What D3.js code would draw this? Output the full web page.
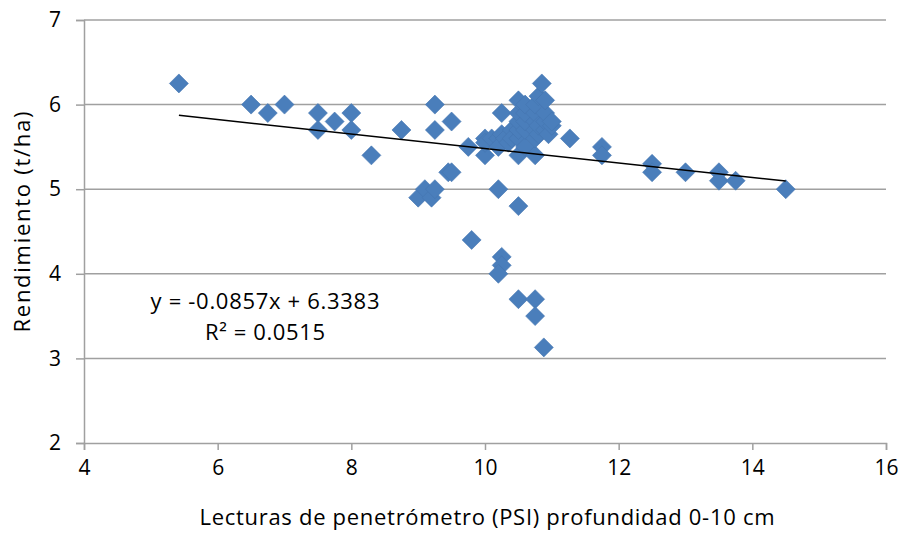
<!DOCTYPE html>
<html>
<head>
<meta charset="utf-8">
<script src="https://cdn.jsdelivr.net/npm/d3@7"></script>
<style>
  body { margin: 0; background: #fff; }
  svg text { font-family: "Open Sans", sans-serif; fill: #000; }
</style>
</head>
<body>
<svg id="chart" width="908" height="536"></svg>
<script>
// penetrometer readings (PSI) and yield (t/ha)
const psi = [
  5.42, 6.5, 6.75, 7.0, 7.5, 7.5, 7.75, 8.0, 8.0, 8.3, 8.75,
  9.25, 9.25, 9.5, 9.45, 9.5, 9.0, 9.1, 9.2, 9.25,
  10.2, 10.5, 9.8, 10.25, 10.25, 10.2, 10.5, 10.75, 10.75, 10.88,
  11.27, 11.75, 11.75, 12.5, 12.5, 13.0, 13.5, 13.5, 13.75, 14.5,
  9.75, 10.0, 10.0, 10.0, 10.1, 10.2, 10.2, 10.25, 10.25, 10.3, 10.35,
  10.4, 10.4, 10.5, 10.5, 10.5, 10.5, 10.5, 10.5, 10.6, 10.6, 10.6,
  10.6, 10.6, 10.75, 10.75, 10.75, 10.75, 10.75, 10.75, 10.8, 10.8,
  10.8, 10.85, 10.9, 10.9, 10.9, 10.9, 10.95, 11.0, 11.0
]
const rendimiento = [
  6.25, 6.0, 5.9, 6.0, 5.9, 5.7, 5.8, 5.9, 5.7, 5.4, 5.7,
  6.0, 5.7, 5.8, 5.2, 5.2, 4.9, 5.0, 4.9, 5.0,
  5.0, 4.8, 4.4, 4.2, 4.1, 4.0, 3.7, 3.7, 3.5, 3.13,
  5.6, 5.5, 5.4, 5.3, 5.2, 5.2, 5.2, 5.1, 5.1, 5.0,
  5.5, 5.6, 5.4, 5.55, 5.6, 5.6, 5.5, 5.65, 5.9, 5.6, 5.55,
  5.7, 5.6, 5.4, 5.6, 5.7, 5.8, 5.9, 6.05, 5.5, 5.7, 5.8,
  5.9, 6.0, 5.4, 5.6, 5.7, 5.8, 5.9, 6.0, 5.65, 5.75,
  6.1, 6.25, 5.7, 5.8, 5.9, 6.05, 5.65, 5.75, 5.8
]

// Excel linear trendline as printed on the chart
const slope = -0.0857
const intercept = 6.3383
const eqLabel = 'y = -0.0857x + 6.3383'
const r2Label = 'R² = 0.0515'

const xTicks = [4, 6, 8, 10, 12, 14, 16]
const yTicks = [2, 3, 4, 5, 6, 7]

const svg = d3.select('#chart')

const x = d3.scaleLinear().domain([4, 16]).range([84, 886])
const y = d3.scaleLinear().domain([2, 7]).range([443, 20])

const axisColor = '#a0a0a0'
const font = '"Open Sans", sans-serif'

// horizontal gridlines
svg.append('g')
    .selectAll('line')
    .data(yTicks.filter(t => t > 2))
    .enter().append('line')
    .attr('x1', x(4)).attr('x2', x(16))
    .attr('y1', d => y(d)).attr('y2', d => y(d))
    .style('stroke', axisColor)
    .style('stroke-width', '1.5px')

// y axis
var yAxis = svg.append('g')
    .attr('transform', `translate(${x(4)},0)`)
    .call(d3.axisLeft(y).tickValues(yTicks).tickSize(8).tickPadding(15).tickFormat(d3.format('d')))
yAxis.select('.domain').style('stroke', axisColor).style('stroke-width', '1.5px')
yAxis.selectAll('.tick line').style('stroke', axisColor).style('stroke-width', '1.5px')
yAxis.selectAll('.tick text').style('font-size', '21px').style('font-family', font)

// x axis
var xAxis = svg.append('g')
    .attr('transform', `translate(0,${y(2)})`)
    .call(d3.axisBottom(x).tickValues(xTicks).tickSize(7).tickPadding(10).tickFormat(d3.format('d')))
xAxis.select('.domain').style('stroke', axisColor).style('stroke-width', '1.5px')
xAxis.selectAll('.tick line').style('stroke', axisColor).style('stroke-width', '1.5px')
xAxis.selectAll('.tick text').style('font-size', '21px').style('font-family', font)

// points
const pts = psi.map((v, i) => ({ x: v, y: rendimiento[i] }))
const half = 9.5
const diamond = `M 0 ${-half} L ${half} 0 L 0 ${half} L ${-half} 0 Z`

svg.append('g')
    .selectAll('path')
    .data(pts)
    .enter().append('path')
    .attr('d', diamond)
    .attr('transform', d => `translate(${x(d.x)},${y(d.y)})`)
    .style('fill', '#4a7ebb')
    .style('stroke', '#4575b0')
    .style('stroke-width', '0.6px')

// trendline over the range of the data
const xMin = d3.min(psi), xMax = d3.max(psi)
svg.append('line')
    .attr('x1', x(xMin)).attr('y1', y(slope * xMin + intercept))
    .attr('x2', x(xMax)).attr('y2', y(slope * xMax + intercept))
    .style('stroke', '#000')
    .style('stroke-width', '1.5px')

// equation labels
svg.append('text')
    .attr('x', 265).attr('y', 309)
    .attr('text-anchor', 'middle')
    .attr('textLength', 229)
    .style('font-size', '22px')
    .text(eqLabel)

svg.append('text')
    .attr('x', 265).attr('y', 340)
    .attr('text-anchor', 'middle')
    .attr('textLength', 120)
    .style('font-size', '22px')
    .text(r2Label)

// axis titles
svg.append('text')
    .attr('x', 487).attr('y', 525)
    .attr('text-anchor', 'middle')
    .attr('textLength', 575)
    .style('font-size', '22px')
    .text('Lecturas de penetrómetro (PSI) profundidad 0-10 cm')

svg.append('text')
    .attr('transform', 'translate(30,222) rotate(-90)')
    .attr('text-anchor', 'middle')
    .attr('textLength', 221)
    .style('font-size', '22px')
    .text('Rendimiento (t/ha)')
</script>
</body>
</html>
